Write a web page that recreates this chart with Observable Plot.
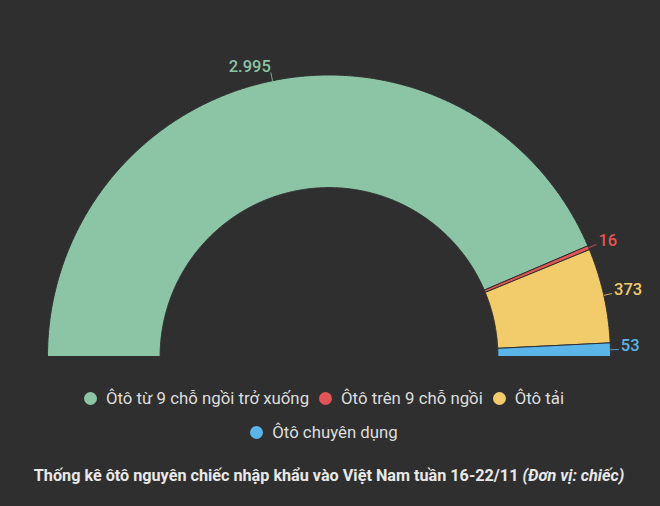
<!DOCTYPE html>
<html>
<head>
<meta charset="utf-8">
<script src="https://cdn.jsdelivr.net/npm/d3@7"></script>
<script src="https://cdn.jsdelivr.net/npm/@observablehq/plot@0.6"></script>
<style>
  html, body { margin: 0; padding: 0; background: #2f2f2f; }
  #wrap { width: 660px; height: 506px; background: #2f2f2f; font-family: Roboto, sans-serif; overflow: hidden; }
  #legend { width: 520px; margin: 17px 0 0 64px; display: flex; flex-wrap: wrap; justify-content: center; row-gap: 12px; column-gap: 10px; }
  .item { display: flex; align-items: center; color: #dedede; font-size: 16.8px; line-height: 22px; white-space: nowrap; }
  .dot { width: 13px; height: 13px; border-radius: 50%; margin-right: 9px; display: inline-block; }
  #caption { text-align: center; color: #e8e8e8; font-size: 16.2px; font-weight: bold; margin-top: 23px; padding-right: 2px; }
  #caption i { font-style: italic; }
</style>
</head>
<body>
<div id="wrap">
  <div id="chart"></div>
  <div id="legend"></div>
  <div id="caption">Thống kê ôtô nguyên chiếc nhập khẩu vào Việt Nam tuần 16-22/11 <i>(Đơn vị: chiếc)</i></div>
</div>
<script>
const categories = ["Ôtô từ 9 chỗ ngồi trở xuống", "Ôtô trên 9 chỗ ngồi", "Ôtô tải", "Ôtô chuyên dụng"];
const values = [2995, 16, 373, 53];
const valueLabels = ["2.995", "16", "373", "53"];
const colors = ["#8cc4a6", "#e35454", "#f2cb6b", "#5bb5e8"];

const bg = "#2f2f2f";
const innerRatio = 0.6;

const arcs = d3.pie().sort(null).startAngle(-Math.PI / 2).endAngle(Math.PI / 2)(values);

// polygon outline for each slice (data space: unit circle, y up)
const pts = [];
arcs.forEach((a, i) => {
  const n = Math.max(2, Math.ceil((a.endAngle - a.startAngle) / 0.005));
  const ring = [];
  for (let k = 0; k <= n; k++) {
    const t = a.startAngle + (a.endAngle - a.startAngle) * k / n;
    ring.push({x: Math.sin(t), y: Math.cos(t)});
  }
  for (let k = n; k >= 0; k--) {
    const t = a.startAngle + (a.endAngle - a.startAngle) * k / n;
    ring.push({x: innerRatio * Math.sin(t), y: innerRatio * Math.cos(t)});
  }
  ring.push(ring[0]);
  ring.forEach(p => pts.push({...p, cat: categories[i]}));
});

const lab = arcs.map((a, i) => {
  const m = (a.startAngle + a.endAngle) / 2;
  return {
    cat: categories[i], text: valueLabels[i], side: m < 0 ? "left" : "right",
    x1: Math.sin(m), y1: Math.cos(m),
    x2: 1.03 * Math.sin(m), y2: 1.03 * Math.cos(m)
  };
});

const plot = Plot.plot({
  width: 660,
  height: 370,
  style: {background: "transparent", fontFamily: "Roboto, sans-serif"},
  x: {domain: [-1, 1], range: [47, 610], axis: null},
  y: {domain: [0, 1], range: [356, 74.5], axis: null},
  color: {domain: categories, range: colors},
  marks: [
    Plot.line(pts, {x: "x", y: "y", z: "cat", fill: "cat", stroke: bg, strokeWidth: 1, curve: "linear"}),
    Plot.link(lab, {x1: "x1", y1: "y1", x2: "x2", y2: "y2", stroke: "cat", strokeWidth: 1, strokeOpacity: 0.8}),
    Plot.text(lab.filter(d => d.side === "left"), {x: "x2", y: "y2", text: "text", fill: "cat", textAnchor: "end", dx: 0, dy: -6, fontSize: 16.5, fontWeight: 500}),
    Plot.text(lab.filter(d => d.side === "right"), {x: "x2", y: "y2", text: "text", fill: "cat", textAnchor: "start", dx: 2, dy: -4, fontSize: 16.5, fontWeight: 500})
  ]
});
document.getElementById("chart").appendChild(plot);

const legend = document.getElementById("legend");
categories.forEach((c, i) => {
  const it = document.createElement("div");
  it.className = "item";
  const dot = document.createElement("span");
  dot.className = "dot";
  dot.style.background = colors[i];
  it.appendChild(dot);
  it.appendChild(document.createTextNode(c));
  legend.appendChild(it);
});
</script>
</body>
</html>
